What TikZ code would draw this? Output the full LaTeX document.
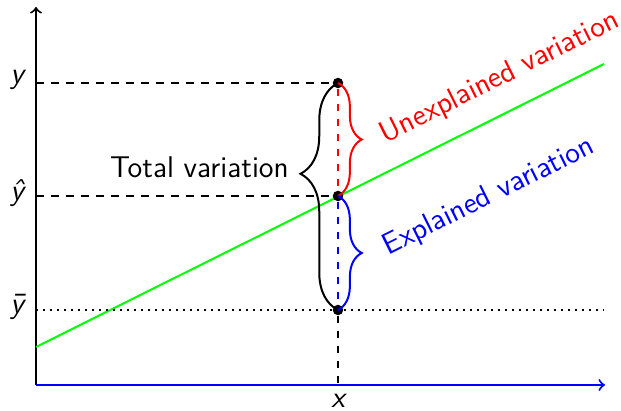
\documentclass[tikz,border=0pt]{standalone}
\usetikzlibrary{decorations.pathreplacing}
\begin{document}
\begin{tikzpicture}[x=0.4pt,y=-0.4pt,
  every node/.style={font=\sffamily},
  axis/.style={thick,->},
  guide/.style={thick,dashed},
  pt/.style={circle,fill=black,inner sep=0pt,minimum size=4.2pt},
  bracestyle/.style={thick,decorate,decoration={brace,amplitude=#1}},
  lbl/.style={font=\sffamily\slshape}
]
\useasboundingbox (0,0) rectangle (621,411);
% axes
\coordinate (O) at (36,385);
\coordinate (ytop) at (36,7);
\coordinate (xend) at (605,385);
\draw[axis] (O) -- (ytop);
% regression line
\coordinate (L1) at (36,347);
\coordinate (L2) at (604,64);
\draw[thick,green] (L1) -- (L2);
% points
\node[pt] (py) at (338,83) {};
\node[pt] (ph) at (338,196) {};
\node[pt] (pb) at (338,310) {};
\coordinate (ay) at (36,83);
\coordinate (ah) at (36,196);
\coordinate (ab) at (36,310);
\coordinate (abr) at (604,310);
\coordinate (px) at (338,385);
\draw[guide] (ay) -- (py);
\draw[guide] (ah) -- (ph);
\draw[thick,dotted] (ab) -- (abr);
\draw[guide] (pb) -- (px);
\draw[guide,red] (py) -- (ph);
\draw[guide,blue] (ph) -- (pb);
\draw[axis,blue] (O) -- (xend);
% braces
\draw[bracestyle=15pt,decoration={aspect=0.6}] (pb.center) -- (py.center)
  node[pos=0.6,xshift=-16pt,yshift=2.5pt,anchor=east] (tv) {\large Total variation};
\draw[bracestyle=9.5pt,red] (py.center) -- (ph.center);
\draw[bracestyle=9.5pt,blue] (ph.center) -- (pb.center);
% rotated labels
\node[red,rotate=26.5,inner sep=1pt] (uv) at (500,78) {\large Unexplained variation};
\node[blue,rotate=26.5,inner sep=1pt] (ev) at (489,197) {\large Explained variation};
% axis labels
\node[lbl] (ly) at (17,80) {\large y};
\node[lbl] (lh) at (17,193) {\large \^y};
\node[lbl] (lb) at (17,307) {\large \=y};
\node[lbl] (lx) at (338,401) {\large x};
\end{tikzpicture}
\end{document}
